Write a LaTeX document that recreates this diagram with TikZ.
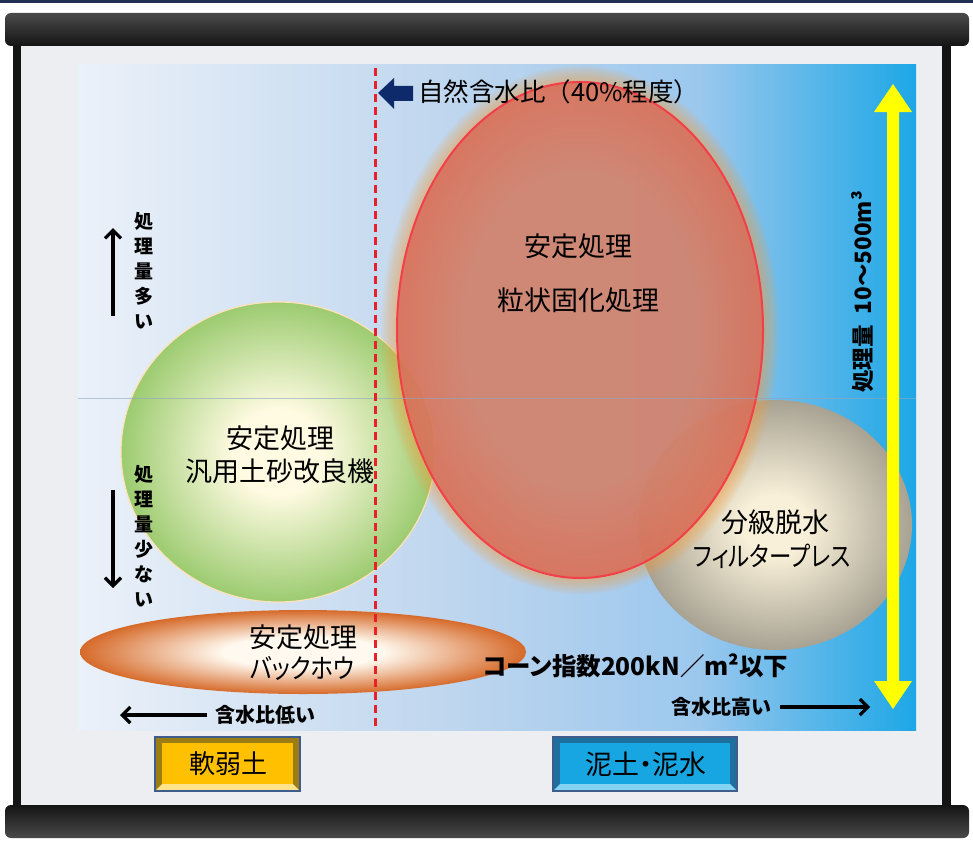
\documentclass[tikz,border=0pt]{standalone}
\usepackage{fontspec}
\setmainfont{Noto Sans CJK JP}[RawFeature={+palt}]
\newfontfamily\cjkfull{Noto Sans CJK JP}
\usetikzlibrary{arrows.meta,shapes.geometric}
\definecolor{topline}{HTML}{1F3050}
\definecolor{rodblack}{HTML}{141414}
\definecolor{rodgrey}{HTML}{4A4A4A}
\definecolor{screencol}{HTML}{ECEEF1}
\definecolor{bgA}{HTML}{EBF1F9}
\definecolor{bgB}{HTML}{BDD5EE}
\definecolor{bgC}{HTML}{9CC8EE}
\definecolor{bgD}{HTML}{1DA7E6}
\definecolor{midline}{HTML}{8FA5BE}
\definecolor{dashred}{HTML}{E8202A}
\definecolor{navy}{HTML}{0E2A6B}
\definecolor{redin}{HTML}{CF8272}
\definecolor{redout}{HTML}{D96E5A}
\definecolor{redline}{HTML}{F2404A}
\definecolor{glow}{HTML}{F6A040}
\definecolor{greenin}{HTML}{FFFBE2}
\definecolor{greenout}{HTML}{9CCB70}
\definecolor{greyin}{HTML}{F8F0D8}
\definecolor{greyout}{HTML}{A8A293}
\definecolor{orin}{HTML}{FFF9EF}
\definecolor{orout}{HTML}{D66A2A}
\definecolor{golden}{HTML}{FFC000}
\definecolor{goldbev}{HTML}{9C7D14}
\definecolor{goldlight}{HTML}{FFE38A}
\definecolor{skyfill}{HTML}{17A6E2}
\definecolor{skybev}{HTML}{1F6F9E}
\definecolor{skylight}{HTML}{85D3F3}
\definecolor{boxedge}{HTML}{3E5D8C}
\definecolor{yel}{HTML}{FFFF00}
\pgfdeclarehorizontalshading{bgshade}{100bp}{color(0bp)=(bgA); color(25bp)=(bgA); color(48bp)=(bgB); color(62bp)=(bgC); color(75bp)=(bgD); color(100bp)=(bgD)}
\pgfdeclareradialshading{greenball}{\pgfpoint{0bp}{0bp}}{color(0bp)=(greenin); color(7bp)=(greenin); color(25bp)=(greenout); color(50bp)=(greenout)}
\pgfdeclareradialshading{greyball}{\pgfpoint{0bp}{0bp}}{color(0bp)=(greyin); color(6bp)=(greyin); color(25bp)=(greyout); color(50bp)=(greyout)}
\pgfdeclareradialshading{orball}{\pgfpoint{0bp}{0bp}}{color(0bp)=(orin); color(9bp)=(orin); color(25bp)=(orout); color(50bp)=(orout)}
\pgfdeclareradialshading{redball}{\pgfpoint{0bp}{0bp}}{color(0bp)=(redin); color(16bp)=(redin); color(25bp)=(redout); color(50bp)=(redout)}
\tikzset{
  lbl/.style={font=\fontsize{27}{30}\selectfont, text=black, inner sep=0pt},
  boldlbl/.style={font=\fontsize{20}{23}\selectfont\bfseries, text=black, inner sep=0pt},
  vlbl/.style={font=\fontsize{19}{25}\selectfont\bfseries, text=black, inner sep=0pt, align=center},
  barrow/.style={line width=3.2pt, -{Straight Barb[length=8pt,width=16pt]}},
}
\begin{document}
\begin{tikzpicture}[x=1pt,y=-1pt]
\useasboundingbox (0,0) rectangle (973,840);
\fill[white] (0,0) rectangle (973,840);
\fill[topline] (0,0) rectangle (973,3);
% screen
\fill[screencol] (18,40) rectangle (948,808);
\fill[rodblack] (13,40) rectangle (21,808);
\fill[rodblack] (942,40) rectangle (951,808);
% rods
\shade[top color=rodgrey, bottom color=rodblack, rounded corners=6] (5,13) rectangle (969,46);
\shade[top color=rodblack, bottom color=rodgrey, rounded corners=6] (5,805) rectangle (969,838);
% chart background
\shade[shading=bgshade] (78,65) rectangle (916,730);
% grey circle
\shade[shading=greyball] (775,525) ellipse (137 and 125);
% green circle
\shade[shading=greenball, draw=greenin!80!orange, line width=1.2pt] (278,452) ellipse (157 and 150);
% orange ellipse
\shade[shading=orball] (303,652) ellipse (223 and 42);
% red glow
\foreach \i in {1,...,9}{
  \fill[glow, opacity=0.07] (580,330) ellipse ({183+1.8*\i} and {248+1.8*\i});
}
% red ellipse
\shade[shading=redball, opacity=0.88] (580,330) ellipse (183 and 248);
\draw[redline, line width=2pt] (580,330) ellipse (183 and 248);
\draw[midline, line width=0.8pt, opacity=0.6] (78,398) -- (916,398);
% dashed line
\draw[dashred, line width=3pt, dash pattern=on 8pt off 5pt] (375,68) -- (375,730);
% navy arrow
\fill[navy] (378,93) -- (394,78) -- (394,86) -- (413,86) -- (413,101) -- (394,101) -- (394,109) -- cycle;
\node[font=\cjkfull\fontsize{25.5}{30}\selectfont, inner sep=0pt, anchor=west] (nat) at (418,92) {自然含水比（40\%程度）};
% labels inside shapes
\node[lbl] (r1) at (578,246) {安定処理};
\node[lbl] (r2) at (578,300) {粒状固化処理};
\node[lbl] (g1) at (280,438) {安定処理};
\node[lbl] (g2) at (280,471) {汎用土砂改良機};
\node[lbl] (s1) at (775,522) {分級脱水};
\node[lbl] (s2) at (772,556) {\scalebox{0.83}[1]{フィルタープレス}};
\node[lbl] (o1) at (303,637) {安定処理};
\node[lbl] (o2) at (302,668) {\scalebox{0.86}[1]{バックホウ}};
% cone index text
\node[font=\fontsize{24.5}{28}\selectfont\bfseries, text=black, inner sep=0pt, anchor=west] (cone) at (483,666) {コーン指数200kN／m²以下};
% water content labels
\node[boldlbl, anchor=west] (hi) at (671,707) {含水比高い};
\coordinate (hiA) at (780,707);
\coordinate (hiB) at (870,707);
\draw[barrow] (hiA) -- (hiB);
\node[boldlbl, anchor=west] (lo) at (215,715) {含水比低い};
\coordinate (loA) at (207,715);
\coordinate (loB) at (120,715);
\draw[barrow] (loA) -- (loB);
% left vertical labels
\node[vlbl, anchor=north] (many) at (144,212) {処\\理\\量\\多\\い};
\coordinate (upA) at (113,316);
\coordinate (upB) at (113,228);
\draw[barrow] (upA) -- (upB);
\node[vlbl, anchor=north] (few) at (144,465) {処\\理\\量\\少\\な\\い};
\coordinate (dnA) at (113,490);
\coordinate (dnB) at (113,588);
\draw[barrow] (dnA) -- (dnB);
% yellow double arrow
\fill[yel] (893,84) -- (912,112) -- (899,112) -- (899,681) -- (912,681) -- (893,709) -- (874,681) -- (887,681) -- (887,112) -- (874,112) -- cycle;
\node[font=\fontsize{22.5}{26}\selectfont\bfseries, text=black, inner sep=0pt, rotate=90] (vol) at (863,292) {処理量\hspace{0.5em}10～500m³};
% bottom boxes
\fill[goldbev] (155,737) rectangle (300,791);
\fill[goldlight] (156,790) -- (299,790) -- (293,784) -- (162,784) -- cycle;
\fill[golden] (162,743) rectangle (293,784);
\draw[boxedge, line width=1.5pt] (155,737) rectangle (300,791);
\node[font=\cjkfull\fontsize{26}{30}\selectfont, inner sep=0pt] (soft) at (228,764) {軟弱土};
\fill[skybev] (553,737) rectangle (737,791);
\fill[skylight] (554,790) -- (736,790) -- (730,784) -- (560,784) -- cycle;
\fill[skyfill] (560,743) rectangle (730,784);
\draw[boxedge, line width=1.5pt] (553,737) rectangle (737,791);
\node[font=\fontsize{27}{30}\selectfont, inner sep=0pt] (mud) at (646,764) {泥土・泥水};
\end{tikzpicture}
\end{document}
